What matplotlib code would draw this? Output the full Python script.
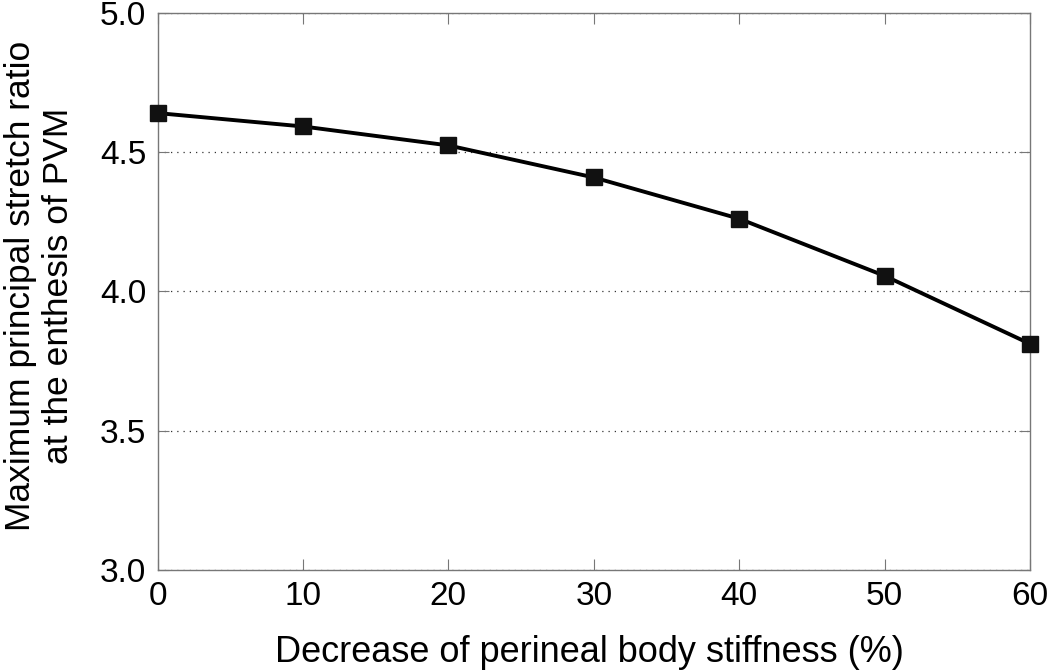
import matplotlib
matplotlib.use("Agg")
import matplotlib.pyplot as plt

plt.rcParams['font.family'] = ['Liberation Sans', 'DejaVu Sans']

# data
stiffness_decrease = [0, 10, 20, 30, 40, 50, 60]
stretch_ratio = [4.64, 4.592, 4.524, 4.409, 4.261, 4.056, 3.812]
x_ticks = [0, 10, 20, 30, 40, 50, 60]
y_ticks = [3.0, 3.5, 4.0, 4.5, 5.0]

fig = plt.figure(figsize=(10.5, 6.7), dpi=100)
ax = fig.add_axes([0.150, 0.149, 0.831, 0.832])

ax.plot(stiffness_decrease, stretch_ratio, color='black', linewidth=2.8,
        marker='s', markersize=11.5, markerfacecolor='#111111',
        markeredgecolor='#111111', zorder=3, clip_on=False)

ax.set_xlim(0, 60)
ax.set_ylim(3.0, 5.0)
ax.set_xticks(x_ticks)
ax.set_yticks(y_ticks)
ax.set_yticklabels([f"{v:.1f}" for v in y_ticks])

# dotted horizontal grid only
ax.yaxis.grid(True, linestyle=(0, (1, 4)), color='#333333', linewidth=0.9)
ax.set_axisbelow(True)

for sp in ax.spines.values():
    sp.set_color('#777777')
    sp.set_linewidth(1.0)

ax.tick_params(direction='in', top=True, right=True, length=8,
               color='#777777', labelsize=24, pad=8)

ax.set_xlabel("Decrease of perineal body stiffness (%)", fontsize=26,
              va='baseline')
ax.xaxis.set_label_coords(0.495, -0.165)
ax.set_ylabel("Maximum principal stretch ratio\nat the enthesis of PVM",
              fontsize=25.5)
ax.yaxis.set_label_coords(-0.094, 0.51)

fig.savefig("out.png", dpi=100)
